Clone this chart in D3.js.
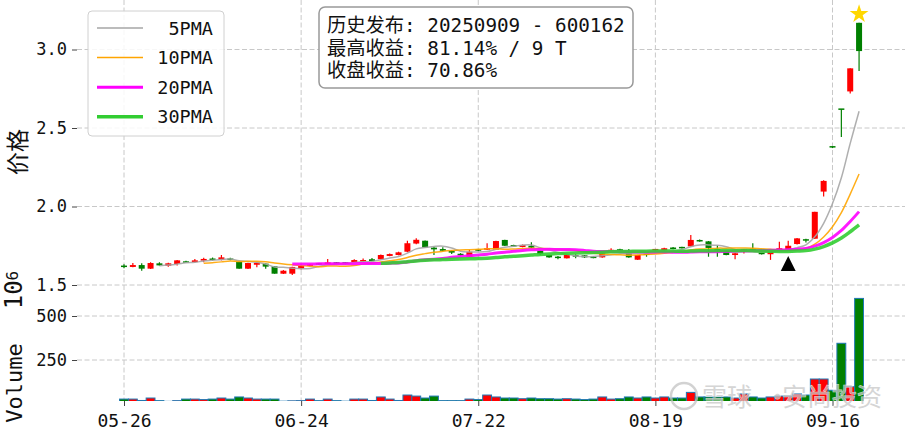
<!DOCTYPE html>
<html><head><meta charset="utf-8">
<script src="https://cdn.jsdelivr.net/npm/d3@7"></script>
<style>body{margin:0;background:#fff}svg{display:block}</style>
</head><body><svg id="c" width="905" height="430"></svg>
<script>
const dates = ["05-26","05-27","05-28","05-29","05-30","06-03","06-04","06-05","06-06","06-09",
 "06-10","06-11","06-12","06-13","06-16","06-17","06-18","06-19","06-20","06-23",
 "06-24","06-25","06-26","06-27","06-30","07-01","07-02","07-03","07-04","07-07",
 "07-08","07-09","07-10","07-11","07-14","07-15","07-16","07-17","07-18","07-21",
 "07-22","07-23","07-24","07-25","07-28","07-29","07-30","07-31","08-01","08-04",
 "08-05","08-06","08-07","08-08","08-11","08-12","08-13","08-14","08-15","08-18",
 "08-19","08-20","08-21","08-22","08-25","08-26","08-27","08-28","08-29","09-01",
 "09-02","09-03","09-04","09-05","09-08","09-09","09-10","09-11","09-12","09-15",
 "09-16","09-17","09-18","09-19"];
const openP = [1.619,1.615,1.627,1.604,1.638,1.623,1.634,1.646,1.646,1.655,
 1.664,1.659,1.664,1.648,1.604,1.629,1.636,1.619,1.572,1.572,
 1.604,1.625,1.634,1.636,1.640,1.640,1.645,1.649,1.664,1.664,
 1.685,1.691,1.712,1.764,1.782,1.738,1.729,1.718,1.699,1.680,
 1.723,1.725,1.725,1.787,1.750,1.742,1.750,1.718,1.691,1.676,
 1.670,1.685,1.689,1.676,1.676,1.718,1.723,1.708,1.661,1.696,
 1.723,1.721,1.734,1.738,1.746,1.782,1.778,1.727,1.718,1.691,
 1.712,1.727,1.708,1.696,1.719,1.727,1.761,1.787,1.795,2.095,
 2.380,2.620,2.733,3.170];
const highP = [1.632,1.640,1.638,1.645,1.645,1.641,1.660,1.655,1.666,1.673,
 1.675,1.691,1.674,1.650,1.642,1.645,1.638,1.621,1.595,1.617,
 1.630,1.634,1.640,1.666,1.646,1.645,1.664,1.668,1.672,1.694,
 1.700,1.712,1.782,1.797,1.784,1.745,1.740,1.722,1.703,1.725,
 1.728,1.766,1.782,1.789,1.757,1.758,1.772,1.720,1.693,1.685,
 1.693,1.696,1.691,1.684,1.704,1.734,1.731,1.730,1.693,1.700,
 1.730,1.738,1.742,1.744,1.818,1.790,1.780,1.754,1.720,1.704,
 1.730,1.766,1.712,1.714,1.776,1.782,1.800,1.795,1.966,2.167,
 2.382,2.620,2.880,3.170];
const lowP = [1.606,1.613,1.591,1.602,1.623,1.617,1.625,1.640,1.642,1.645,
 1.655,1.657,1.658,1.604,1.602,1.613,1.604,1.572,1.570,1.564,
 1.598,1.620,1.628,1.634,1.634,1.632,1.643,1.647,1.651,1.662,
 1.683,1.689,1.708,1.760,1.738,1.691,1.715,1.697,1.686,1.678,
 1.716,1.723,1.723,1.748,1.742,1.740,1.736,1.691,1.674,1.664,
 1.668,1.670,1.672,1.670,1.674,1.716,1.716,1.674,1.659,1.680,
 1.715,1.719,1.727,1.732,1.744,1.775,1.680,1.680,1.689,1.664,
 1.700,1.721,1.694,1.660,1.717,1.725,1.758,1.771,1.793,2.063,
 2.372,2.443,2.720,2.863];
const closeP = [1.619,1.627,1.604,1.640,1.625,1.638,1.657,1.646,1.657,1.666,
 1.664,1.676,1.664,1.604,1.640,1.642,1.617,1.572,1.591,1.615,
 1.623,1.627,1.634,1.642,1.640,1.640,1.659,1.659,1.653,1.691,
 1.697,1.708,1.766,1.788,1.738,1.727,1.718,1.706,1.689,1.712,
 1.723,1.734,1.780,1.750,1.750,1.755,1.738,1.696,1.676,1.676,
 1.691,1.685,1.676,1.676,1.702,1.721,1.723,1.676,1.691,1.696,
 1.727,1.734,1.734,1.738,1.787,1.782,1.736,1.722,1.691,1.702,
 1.727,1.725,1.696,1.712,1.734,1.750,1.797,1.787,1.966,2.163,
 2.380,2.620,2.880,2.990];
const volume = [28,28,20,34,19,15,19,28,28,25,28,34,28,40,34,28,28,28,16,18,
 19,28,19,28,19,16,28,28,20,40,28,20,51,45,34,45,19,19,19,28,
 25,51,40,34,34,30,34,30,30,28,30,28,25,28,40,28,30,40,34,40,
 34,40,34,34,66,40,40,40,40,34,57,40,34,40,45,45,57,51,142,142,
 78,345,98,600];
const tickIdx = [0,20,40,60,80];
const tickLabels = ["05-26","06-24","07-22","08-19","09-16"];
const priceTicks = [1.5,2.0,2.5,3.0];
const volTicks = [250,500];
const maWindows = [5,10,20,30];
const maNames = ["5PMA","10PMA","20PMA","30PMA"];
const maColors = ["#a6a6a6","#ffa500","#ff00ff","#32cd32"];
const maWidths = [1.5,1.5,3,3.5];
const infoLines = ["历史发布: 20250909 - 600162","最高收益: 81.14% / 9 T","收盘收益: 70.86%"];
const signalIndex = 75, signalPrice = 1.63;
const peakIndex = 83, peakPrice = 3.232;

const svg = d3.select("#c");
const L = 77, R = 905;
const x = d3.scaleLinear().domain([0,80]).range([124,832.5]);
const yP = d3.scaleLinear().domain([1.5,3.0]).range([285,49.5]);
const yV = d3.scaleLinear().domain([0,500]).range([404,316]);
const volBottom = 401;
const mono = "'DejaVu Sans Mono', 'Noto Sans CJK SC', monospace";
const cjk = "'Noto Sans CJK SC', sans-serif";
const red = "#ff0000", green = "#008000";
const N = closeP.length;
const data = d3.range(N).map(i => ({i, d:dates[i], o:openP[i], h:highP[i], l:lowP[i], c:closeP[i], v:volume[i]}));

const defs = svg.append("defs");
defs.append("clipPath").attr("id","cp").append("rect").attr("x",L).attr("y",0).attr("width",R-L).attr("height",292);
defs.append("clipPath").attr("id","cv").append("rect").attr("x",L).attr("y",288).attr("width",R-L).attr("height",volBottom-288);

// grid
const grid = svg.append("g").attr("stroke","#c8c8c8").attr("stroke-width",1).attr("stroke-dasharray","5,2.5");
tickIdx.forEach(t => grid.append("line").attr("x1",x(t)).attr("x2",x(t)).attr("y1",0).attr("y2",volBottom));
priceTicks.forEach(t => grid.append("line").attr("x1",L).attr("x2",R).attr("y1",yP(t)).attr("y2",yP(t)));
volTicks.forEach(t => grid.append("line").attr("x1",L).attr("x2",R).attr("y1",yV(t)).attr("y2",yV(t)));

// axes
function styleAxis(g, size){
  g.select(".domain").remove();
  g.selectAll(".tick line").attr("stroke","#444");
  g.selectAll(".tick text").attr("fill","#111").style("font-family",mono).style("font-size",size+"px");
}
svg.append("g").attr("transform",`translate(${L},0)`)
  .call(d3.axisLeft(yP).tickValues(priceTicks).tickFormat(d3.format(".1f")).tickSize(5).tickPadding(5))
  .call(g=>styleAxis(g,17));
svg.append("g").attr("transform",`translate(${L},0)`)
  .call(d3.axisLeft(yV).tickValues(volTicks).tickFormat(d3.format("d")).tickSize(5).tickPadding(5))
  .call(g=>styleAxis(g,17));
svg.append("g").attr("transform",`translate(0,${volBottom})`)
  .call(d3.axisBottom(x).tickValues(tickIdx).tickFormat((d,i)=>tickLabels[i]).tickSize(5).tickPadding(8))
  .call(g=>styleAxis(g,18));

// volume bars
const bw = x(1)-x(0);
svg.append("g").attr("clip-path","url(#cv)").selectAll("rect").data(data).join("rect")
  .attr("x",d=>x(d.i)-bw/2).attr("width",bw)
  .attr("y",d=>yV(d.v)).attr("height",d=>Math.max(0,volBottom+2-yV(d.v)))
  .attr("fill",d=>d.c>d.o?red:green).attr("stroke","#1f77b4").attr("stroke-width",1);

// candles
const cg = svg.append("g").attr("clip-path","url(#cp)");
const cw = 6;
data.forEach(d=>{
  const col = d.c>d.o?red:green;
  cg.append("line").attr("x1",x(d.i)).attr("x2",x(d.i)).attr("y1",yP(d.h)).attr("y2",yP(d.l)).attr("stroke",col).attr("stroke-width",1.2);
  const top = yP(Math.max(d.o,d.c)), bot = yP(Math.min(d.o,d.c));
  if (bot-top < 1.5) {
    cg.append("rect").attr("x",x(d.i)-cw/2).attr("y",(top+bot)/2-0.75).attr("width",cw).attr("height",1.5).attr("fill",col);
  } else {
    cg.append("rect").attr("x",x(d.i)-cw/2).attr("y",top).attr("width",cw).attr("height",bot-top).attr("fill",col);
  }
});

// moving averages
maWindows.forEach((w,k)=>{
  const ma = data.map((d,i)=> i<w-1 ? null : {i, v:d3.mean(closeP.slice(i-w+1,i+1))});
  cg.append("path").datum(ma)
    .attr("d", d3.line().defined(d=>d).x(d=>x(d.i)).y(d=>yP(d.v)).curve(d3.curveCatmullRom.alpha(0.5)))
    .attr("fill","none").attr("stroke",maColors[k]).attr("stroke-width",maWidths[k]).attr("stroke-opacity",0.9);
});

// markers
const tx = x(signalIndex), ty = yP(signalPrice);
svg.append("path").attr("d",`M${tx},${ty-8.5} L${tx+7.5},${ty+6.5} L${tx-7.5},${ty+6.5} Z`).attr("fill","#000");
svg.append("path").attr("d", d3.symbol().type(d3.symbolStar).size(110)())
  .attr("transform",`translate(${x(peakIndex)},${yP(peakPrice)+1})`).attr("fill","#ffd700");

// legend
const lg = svg.append("g");
lg.append("rect").attr("x",88).attr("y",11).attr("width",136).attr("height",125).attr("rx",4)
  .attr("fill","#fff").attr("fill-opacity",0.85).attr("stroke","#d0d0d0");
maNames.forEach((n,k)=>{
  const yy = 28 + k*29.6;
  lg.append("line").attr("x1",97).attr("x2",143).attr("y1",yy).attr("y2",yy).attr("stroke",maColors[k]).attr("stroke-width",maWidths[k]);
  lg.append("text").attr("x",213).attr("y",yy).attr("dy","0.36em").attr("text-anchor","end")
    .style("font-family",mono).style("font-size","18.5px").attr("fill","#111").text(n);
});

// info box
const ib = svg.append("g");
ib.append("rect").attr("x",319).attr("y",7).attr("width",314).attr("height",81).attr("rx",6)
  .attr("fill","#fff").attr("stroke","#999").attr("stroke-width",1.5);
infoLines.forEach((t,k)=>{
  ib.append("text").attr("x",327).attr("y",32+k*22.5).style("font-family",mono).style("font-size","19.3px")
    .style("white-space","pre").attr("fill","#111").text(t);
});

// axis labels
svg.append("text").attr("transform","translate(18,152) rotate(-90)").attr("text-anchor","middle").attr("dy","0.35em")
  .style("font-family",cjk).style("font-size","23px").attr("fill","#111").text("价格");
svg.append("text").attr("transform","translate(14,383) rotate(-90)").attr("text-anchor","middle").attr("dy","0.35em")
  .style("font-family",mono).style("font-size","22px").attr("fill","#111").text("Volume");
const ot = svg.append("text").attr("transform","translate(16,290) rotate(-90)").attr("text-anchor","middle").attr("dy","0.36em")
  .style("font-family",mono).attr("fill","#111");
ot.append("tspan").style("font-size","24px").text("10");
ot.append("tspan").style("font-size","16px").attr("dy","-0.25em").text("6");

// watermark
const wm = svg.append("g").attr("opacity",0.75);
wm.append("circle").attr("cx",684).attr("cy",396).attr("r",13).attr("fill","none").attr("stroke","#c4c4c4").attr("stroke-width",2.5);
[["雪球",702],["·",765],["安尚投资",782]].forEach(([t,xx])=>{
  wm.append("text").attr("x",xx).attr("y",406).style("font-family",cjk).style("font-size","25px")
    .attr("fill","#c8c8c8").attr("stroke","#fff").attr("stroke-width",1).style("paint-order","stroke").text(t);
});
</script></body></html>
